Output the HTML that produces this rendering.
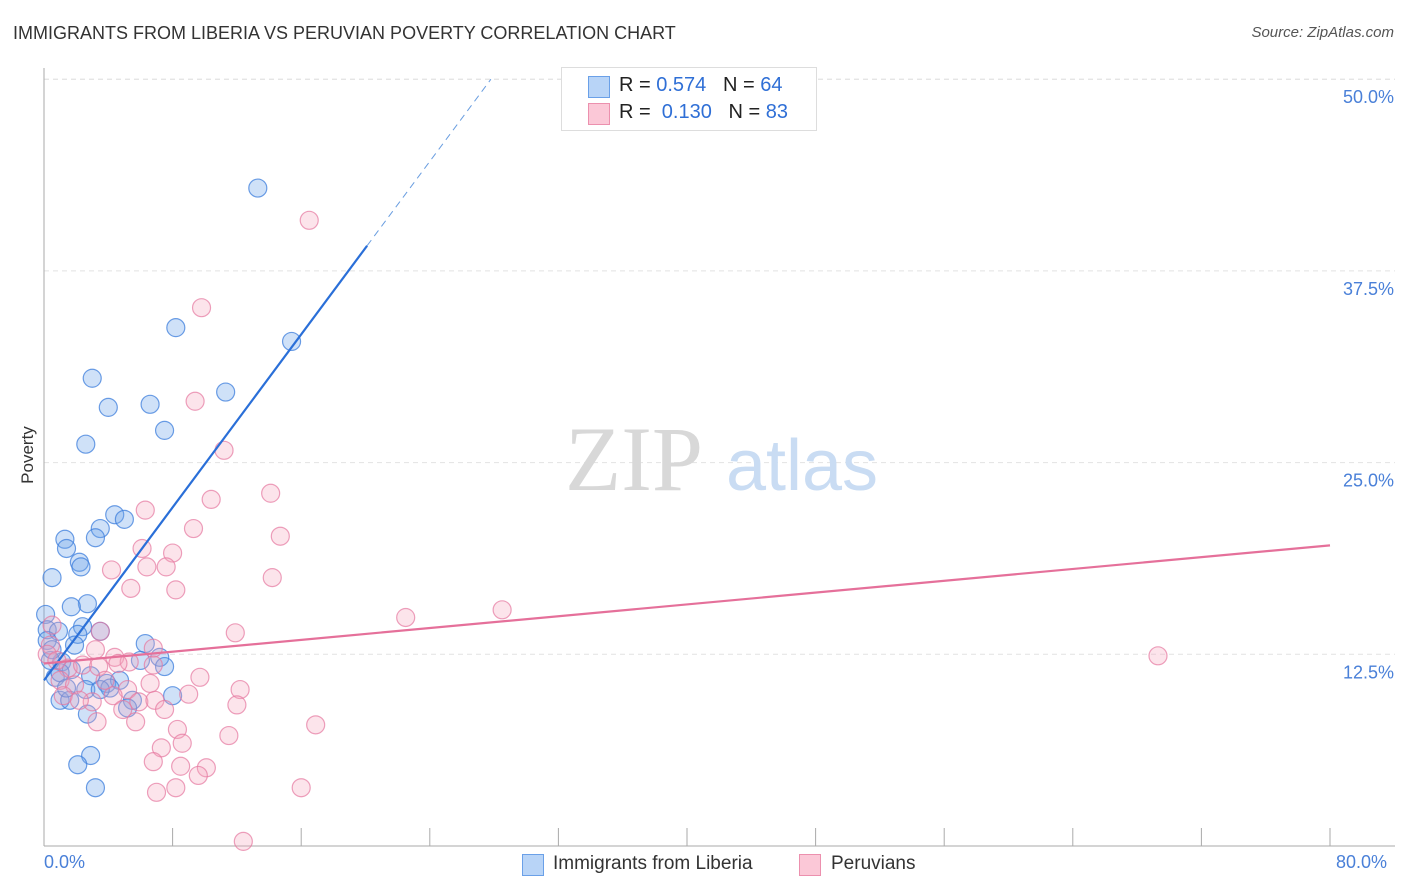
<!DOCTYPE html>
<html><head><meta charset="utf-8"><style>
body{margin:0;background:#fff;font-family:"Liberation Sans",sans-serif;}
#wrap{position:relative;width:1406px;height:892px;overflow:hidden;}
.t{position:absolute;white-space:nowrap;}
</style></head><body>
<div id="wrap">
<div class="t" style="left:13px;top:23px;font-size:18px;color:#333;">IMMIGRANTS FROM LIBERIA VS PERUVIAN POVERTY CORRELATION CHART</div>
<div class="t" style="right:12px;top:24px;font-size:15px;color:#555;font-style:italic;">Source: ZipAtlas.com</div>
<div class="t" style="left:-1px;top:445px;font-size:17px;color:#333;transform:rotate(-90deg);transform-origin:center;">Poverty</div>
<svg id="svg" width="1406" height="892" style="position:absolute;left:0;top:0"></svg>
<div style="position:absolute;left:561px;top:67px;width:254px;height:62px;border:1px solid #ddd;background:#fff;">
 <div style="position:absolute;left:26px;top:8px;width:20px;height:20px;background:#b8d4f7;border:1px solid #6aa0e8;"></div>
 <div class="t" style="left:57px;top:6px;font-size:20px;color:#222;">R = <span style="color:#2f6fd6">0.574</span>&nbsp;&nbsp;&nbsp;N = <span style="color:#2f6fd6">64</span></div>
 <div style="position:absolute;left:26px;top:35px;width:20px;height:20px;background:#fbc8d7;border:1px solid #ec90ae;"></div>
 <div class="t" style="left:57px;top:33px;font-size:20px;color:#222;">R = &nbsp;<span style="color:#2f6fd6">0.130</span>&nbsp;&nbsp;&nbsp;N = <span style="color:#2f6fd6">83</span></div>
</div>
<div class="t" style="left:44px;top:852px;font-size:18px;color:#4a80d8;">0.0%</div>
<div class="t" style="left:1336px;top:852px;font-size:18px;color:#4a80d8;">80.0%</div>
<div style="position:absolute;left:522px;top:854px;width:20px;height:20px;background:#b8d4f7;border:1px solid #6aa0e8;"></div>
<div class="t" style="left:553px;top:853px;font-size:19px;color:#333;">Immigrants from Liberia</div>
<div style="position:absolute;left:799px;top:854px;width:20px;height:20px;background:#fbc8d7;border:1px solid #ec90ae;"></div>
<div class="t" style="left:831px;top:853px;font-size:19px;color:#333;">Peruvians</div>
</div>
<script>
const yTicks=[12.5,25,37.5,50];
const yTickLabels=["12.5%","25.0%","37.5%","50.0%"];
const xTicks=[8,16,24,32,40,48,56,64,72,80];
const blueX=[13.3,8.2,15.4,3.0,11.3,4.0,6.6,7.5,2.6,4.4,5.0,3.5,3.2,1.3,1.4,2.2,2.3,0.5,2.7,1.7,0.1,2.4,3.5,0.2,0.9,2.1,0.2,1.9,6.3,7.2,7.5,1.1,1.7,0.7,1.0,2.9,3.9,4.7,4.1,8.0,5.5,1.0,1.6,5.2,2.7,2.9,2.1,3.2,0.4,0.5,2.6,1.4,3.5,6.0];
const blueY=[42.9,33.8,32.9,30.5,29.6,28.6,28.8,27.1,26.2,21.6,21.3,20.7,20.1,20.0,19.4,18.5,18.2,17.5,15.8,15.6,15.1,14.3,14.0,14.1,14.0,13.8,13.4,13.1,13.2,12.3,11.7,12.0,11.5,11.0,11.3,11.1,10.6,10.8,10.3,9.8,9.5,9.5,9.5,9.0,8.6,5.9,5.3,3.8,12.1,12.8,10.2,10.3,10.2,12.1];
const pinkX=[16.5,9.8,9.4,11.2,14.1,10.4,6.3,9.3,14.7,6.1,8.0,4.2,7.6,6.4,14.2,5.4,8.2,28.5,22.5,69.3,11.9,3.5,6.8,0.5,0.4,0.2,3.2,4.4,5.3,6.8,1.5,2.4,3.4,4.6,1.0,1.9,9.7,6.6,12.2,9.0,5.2,4.3,3.0,5.9,6.9,7.5,4.9,12.0,8.3,5.7,3.3,11.5,16.9,7.3,8.6,6.8,10.1,8.5,9.6,7.0,8.2,16.0,12.4,1.2,2.2,3.8,0.8];
const pinkY=[40.8,35.1,29.0,25.8,23.0,22.6,21.9,20.7,20.2,19.4,19.1,18.0,18.2,18.2,17.5,16.8,16.7,15.4,14.9,12.4,13.9,14.0,12.9,14.4,13.1,12.5,12.8,12.3,12.0,11.8,11.6,11.8,11.7,11.9,10.8,10.5,11.0,10.6,10.2,9.9,10.2,9.8,9.4,9.4,9.5,8.9,8.9,9.2,7.6,8.1,8.1,7.2,7.9,6.4,6.7,5.5,5.1,5.2,4.6,3.5,3.8,3.8,0.3,9.8,9.5,10.8,12.1];
const blueTrend=[10.8,1.41];
const pinkTrend=[11.9,0.0963];
const X=v=>44+v*1286/80, Y=v=>846-v*191.7/12.5;
const svg=document.getElementById('svg'),NS='http://www.w3.org/2000/svg';
function mk(t,a){const e=document.createElementNS(NS,t);for(const k in a)e.setAttribute(k,a[k]);svg.appendChild(e);return e;}
let e;
e=mk('line',{x1:44,y1:Y(50),x2:1395,y2:Y(50),stroke:'#ddd','stroke-dasharray':'5,4'});

yTicks.forEach((v,i)=>{
 e=mk('line',{x1:44,y1:Y(v),x2:1395,y2:Y(v),stroke:'#e2e2e2','stroke-dasharray':'5,4'});
 
 e=mk('text',{x:1394,y:Y(v)+24,'text-anchor':'end','font-size':18,fill:'#4a80d8','font-family':'Liberation Sans, sans-serif'});
 e.textContent=yTickLabels[i];
 
});
e=mk('line',{x1:44,y1:68,x2:44,y2:846,stroke:'#aaa'});

e=mk('line',{x1:44,y1:846,x2:1395,y2:846,stroke:'#aaa'});

xTicks.forEach(v=>{e=mk('line',{x1:X(v),y1:828,x2:X(v),y2:846,stroke:'#aaa'});
 });
e=mk('text',{x:634,y:490,'text-anchor':'middle','font-size':92,fill:'#d8d8d8','font-family':'Liberation Serif, serif'});e.textContent='ZIP';

e=mk('text',{x:802,y:490,'text-anchor':'middle','font-size':72,fill:'#c9dcf3','font-family':'Liberation Sans, sans-serif'});e.textContent='atlas';

blueX.forEach((v,i)=>{e=mk('circle',{cx:X(v),cy:Y(blueY[i]),r:9,fill:'rgba(110,165,235,0.33)',stroke:'rgba(60,125,220,0.75)','stroke-width':1.2});
 });
pinkX.forEach((v,i)=>{e=mk('circle',{cx:X(v),cy:Y(pinkY[i]),r:9,fill:'rgba(245,165,190,0.3)',stroke:'rgba(230,120,160,0.7)','stroke-width':1.2});
 });
const bx2=(50-blueTrend[0])/blueTrend[1];
e=mk('line',{x1:X(0),y1:Y(blueTrend[0]),x2:X(20.1),y2:Y(blueTrend[0]+blueTrend[1]*20.1),stroke:'#2a6fd8','stroke-width':2.2});

e=mk('line',{x1:X(20.1),y1:Y(blueTrend[0]+blueTrend[1]*20.1),x2:X(bx2),y2:Y(50),stroke:'#6a9ee0','stroke-width':1,'stroke-dasharray':'7,5'});

e=mk('line',{x1:X(0),y1:Y(pinkTrend[0]),x2:X(80),y2:Y(pinkTrend[0]+pinkTrend[1]*80),stroke:'#e5709a','stroke-width':2.2});

</script>
</body></html>
